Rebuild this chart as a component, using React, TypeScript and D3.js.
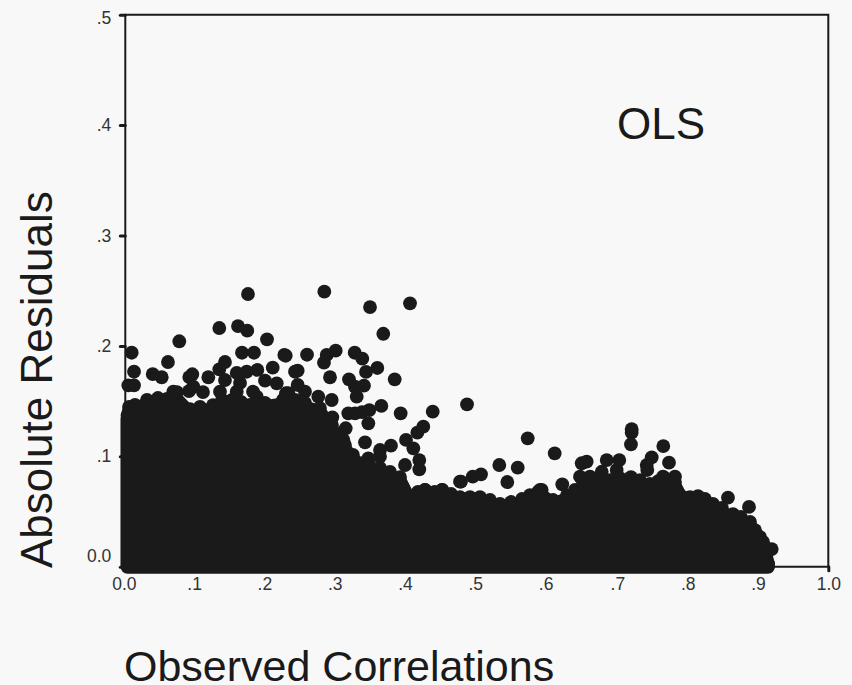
import React, { useEffect, useRef } from 'react';
import * as d3 from 'd3';

const xTicks = [0, 0.1, 0.2, 0.3, 0.4, 0.5, 0.6, 0.7, 0.8, 0.9, 1];
const yTicks = [0, 0.1, 0.2, 0.3, 0.4, 0.5];

// points standing clear of the solid mass
const pointsLow: [number, number][] = [
  [.1745, .247], [.1337, .2162], [.1603, .218], [.1735, .2138], [.0768, .2042], [.2016, .206],
  [.166, .1938], [.1831, .1938], [.2262, .1918], [.0091, .1938], [.0607, .1854], [.1418, .1854],
  [.0124, .1766], [.039, .1745], [.0518, .1716], [.1337, .1788], [.0953, .1743], [.1181, .1716],
  [.091, .1718], [.2097, .1803], [.1585, .1755], [.1727, .1766], [.1878, .1782], [.0043, .1643],
  [.0124, .1643], [.0683, .1585], [.0967, .163], [.0906, .1591], [.1105, .1582], [.1987, .1685],
  [.2154, .1661], [.2286, .1571], [.1347, .1585], [.1632, .1664], [.1817, .1585], [.1869, .154],
  [.1585, .1585], [.1418, .1691],
];

const pointsMid: [number, number][] = [
  [.2831, .2491], [.3481, .2352], [.405, .2386], [.367, .211], [.2282, .1911], [.2585, .192],
  [.2993, .1957], [.2865, .1918], [.2826, .1848], [.3263, .1938], [.3371, .1884], [.3585, .18],
  [.3424, .1764], [.2452, .1775], [.2414, .1766], [.2912, .1716], [.3182, .1697], [.3832, .1697],
  [.3395, .164], [.3267, .163], [.3292, .154], [.2452, .1646], [.2556, .1585], [.2319, .1571],
  [.2745, .154], [.2936, .151], [.3642, .1456], [.3471, .1419], [.3172, .1389], [.3267, .1389],
  [.3367, .1401], [.3917, .1389], [.4373, .1404], [.4239, .1268], [.4154, .1214], [.3457, .1299],
  [.2945, .1353], [.3135, .1254], [.341, .1127], [.3993, .1148], [.3779, .1096], [.3623, .1057],
  [.3623, .0996], [.4097, .1072], [.4182, .0966], [.4182, .0882], [.3979, .0921], [.3457, .0982],
  [.3101, .1148], [.4263, .0695], [.4509, .0695], [.4761, .077],
];

const pointsHigh: [number, number][] = [
  [.4861, .1471], [.5724, .1163], [.6108, .1027], [.532, .0921], [.5582, .0897], [.5434, .0767],
  [.506, .0837], [.4942, .0815], [.4775, .077], [.5923, .0695], [.6216, .0746], [.5875, .0679],
  [.6492, .0937], [.6563, .0951], [.6468, .0815], [.661, .0815], [.6848, .0966], [.7027, .0966],
  [.6777, .086], [.699, .0876], [.7203, .1245], [.7203, .1214], [.7193, .1109], [.7653, .1093],
  [.7488, .0991], [.7417, .0921], [.7425, .0876], [.7734, .0942], [.7819, .0815], [.7649, .0815],
  [.8573, .0625], [.8872, .0541], [.9195, .016], [.9142, .0022], [.9028, .0043],
];

// points along the top of the overlap, they give the edge its bumps
const pointsRim: [number, number][] = [
  [.0031, .1374], [.0053, .1447], [.0138, .1465], [.0309, .151], [.0465, .1528], [.0593, .1519],
  [.0735, .1582], [.092, .1428], [.1063, .1447], [.1248, .1464], [.1376, .151], [.1518, .151],
  [.1646, .1492], [.1774, .1465], [.1987, .1483], [.2243, .151], [.2414, .151], [.2556, .1483],
  [.2769, .1437], [.294, .1283], [.3025, .1193], [.3125, .1102], [.3238, .1012], [.3338, .0939],
  [.3481, .0912], [.3623, .0894], [.3765, .0858], [.3908, .0812], [.4051, .0631], [.4163, .0677],
  [.4263, .0695], [.4401, .0677], [.4505, .0695], [.4633, .0659], [.4761, .0631], [.4903, .0631],
  [.5045, .0631], [.5188, .0604], [.533, .0568], [.5487, .0586], [.5643, .0613], [.5757, .0649],
  [.5899, .0695], [.6084, .0604], [.6283, .0649], [.6397, .0695], [.6511, .0758], [.6753, .0767],
  [.6895, .0785], [.7037, .0803], [.7193, .0812], [.7322, .0785], [.7463, .0749], [.7582, .0776],
  [.7677, .0803], [.7819, .0767], [.7933, .0631], [.8033, .0631], [.8146, .064], [.8246, .0613],
  [.8359, .0568], [.8487, .0532], [.8644, .0477], [.8757, .045], [.8886, .0405], [.8957, .0332],
  [.9028, .0269], [.9071, .0224], [.9099, .0178], [.9142, .0033],
];

// upper edge of the part where the points overlap completely
const massX = [
  .0031, .0053, .0309, .0593, .0735, .092, .1248, .1518, .1774, .2243, .2556, .2769, .294, .3125,
  .3338, .3623, .3908, .4051, .4263, .4505, .4761, .5045, .533, .5643, .5899, .6084, .6283, .6511,
  .6753, .7037, .7193, .7463, .7677, .7819, .7933, .8146, .8359, .8644, .8886, .9028, .9099, .9142,
];
const massY = [
  .1334, .1407, .147, .1479, .1512, .1388, .1424, .147, .1425, .147, .1443, .1397, .1243, .1062,
  .0899, .0854, .0772, .0591, .0655, .0655, .0591, .0591, .0528, .0573, .0655, .0564, .0609, .0718,
  .0727, .0763, .0772, .0709, .0763, .0727, .0591, .06, .0528, .0437, .0365, .0229, .0138, .0003,
];

const ink = '#1a1a1a';
const font = '"Liberation Sans", Arial, sans-serif';

const x = d3.scaleLinear().domain([0, 1]).range([125.3, 828.3]);
const y = d3.scaleLinear().domain([0, 0.5]).range([566.7, 14.7]);

const tickLabel = (d: number) => (d === 0 || d === 1 ? d.toFixed(1) : String(d).replace(/^0/, ''));

export default function App() {
  const xRef = useRef<SVGGElement>(null);
  const yRef = useRef<SVGGElement>(null);

  useEffect(() => {
    const xAxis = d3.select(xRef.current);
    xAxis.call(d3.axisBottom(x).tickValues(xTicks).tickFormat(tickLabel as any).tickSize(4).tickPadding(7));
    const yAxis = d3.select(yRef.current);
    yAxis.call(d3.axisLeft(y).tickValues(yTicks).tickFormat(tickLabel as any).tickSize(5).tickPadding(9));

    for (const g of [xAxis, yAxis]) {
      g.select('.domain').remove();
      g.selectAll('line').attr('stroke', ink).attr('stroke-width', 3).attr('stroke-linecap', 'round');
      g.selectAll('text').attr('font-family', font).attr('font-size', 17.5).attr('fill', '#333');
    }
    // the 0.0 label sits above its tick in the original
    yAxis.selectAll('text').attr('dy', (d: any) => (d === 0 ? '-0.32em' : d === 0.5 ? '0.5em' : '0.32em'));
    // labels drift left of their ticks towards the low end
    xAxis.selectAll('text').attr('dx', (d: any) => (d < 0.65 ? -1.5 : 0));
  }, []);

  const massPath = d3
    .area<number>()
    .x((_, i) => x(massX[i]))
    .y0(y(0))
    .y1((d) => y(d))(massY);

  const points = [...pointsLow, ...pointsMid, ...pointsHigh, ...pointsRim];

  return (
    <svg
      width={852}
      height={685}
      style={{ position: 'absolute', left: 0, top: 0, background: '#f8f8f8' }}
    >
      <path
        d={`M${x(0)},${y(0.5)}H${x(1)}V${y(0)}H${x(0)}Z`}
        fill="none"
        stroke={ink}
        strokeWidth={2}
      />
      <g ref={xRef} transform={`translate(0,${y(0)})`} />
      <g ref={yRef} transform={`translate(${x(0)},0)`} />
      <path d={massPath ?? ''} fill={ink} stroke={ink} strokeWidth={14} strokeLinejoin="round" />
      {points.map((p, i) => (
        <circle key={i} cx={x(p[0])} cy={y(p[1])} r={6.9} fill={ink} />
      ))}
      <text x={617} y={139} fontFamily={font} fontSize={44} fill={ink}>OLS</text>
      <text x={124} y={681} fontFamily={font} fontSize={43} fill={ink}>Observed Correlations</text>
      <text transform="translate(52,568) rotate(-90)" fontFamily={font} fontSize={44} fill={ink}>
        Absolute Residuals
      </text>
    </svg>
  );
}
